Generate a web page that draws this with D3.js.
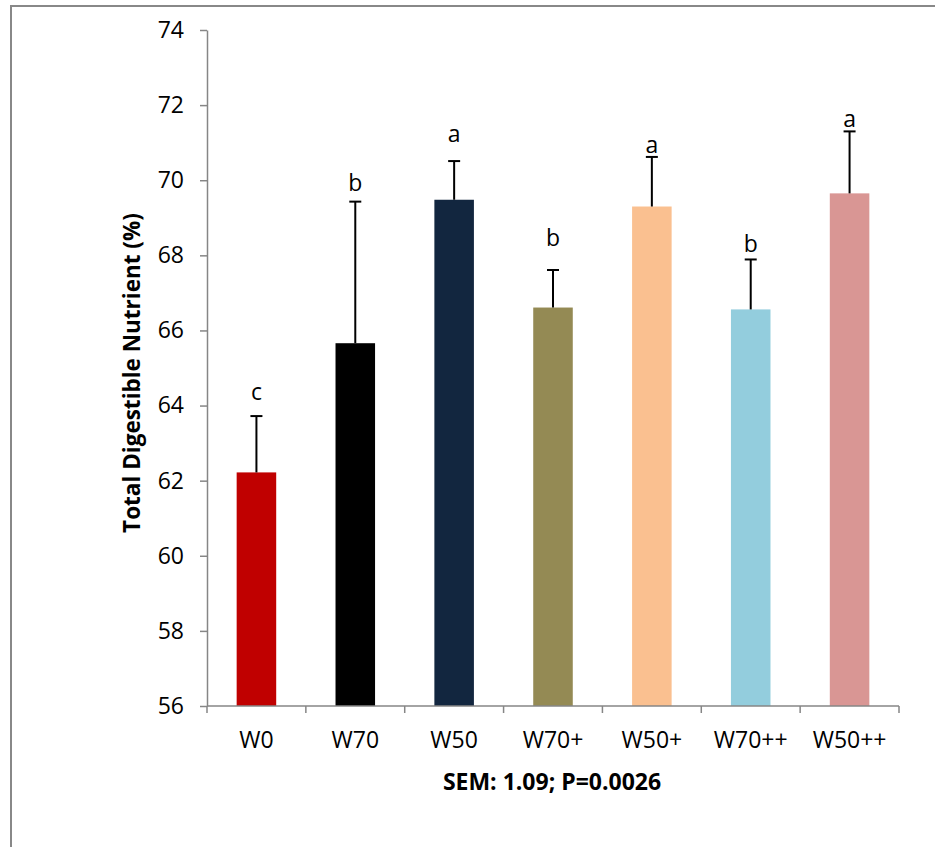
<!DOCTYPE html>
<html>
<head>
<meta charset="utf-8">
<script src="https://cdn.jsdelivr.net/npm/d3@7"></script>
<style>
  body { margin: 0; background: #fff; }
  text { font-family: "Open Sans", "Noto Sans", sans-serif; fill: #000; }
</style>
</head>
<body>
<div id="graph"></div>
<script>
// data
const categories = ["W0", "W70", "W50", "W70+", "W50+", "W70++", "W50++"];
const means = [62.22, 65.66, 69.48, 66.61, 69.30, 66.56, 69.65];
const errTops = [63.72, 69.43, 70.51, 67.61, 70.62, 67.89, 71.30];
const letters = ["c", "b", "a", "b", "a", "b", "a"];
const letterAt = [64.16, 69.72, 71.01, 68.24, 70.73, 68.08, 71.41];
const colors = ["#c00000", "#000000", "#12263f", "#948a54", "#fac090", "#93cddd", "#d99694"];
const yTicks = [56, 58, 60, 62, 64, 66, 68, 70, 72, 74];

const W = 935, H = 847;
const plot = {left: 207, right: 899, top: 30, bottom: 706};

const svg = d3.select("#graph")
  .append("svg")
    .attr("width", W)
    .attr("height", H);

// chart frame
svg.append("rect")
  .attr("x", 11).attr("y", 6)
  .attr("width", W + 10).attr("height", H + 10)
  .attr("fill", "#fff")
  .attr("stroke", "#888")
  .attr("stroke-width", 2);

const x = d3.scaleBand()
  .domain(categories)
  .range([plot.left, plot.right])
  .paddingInner(0.6)
  .paddingOuter(0.3);

const y = d3.scaleLinear()
  .domain([56, 74])
  .range([plot.bottom, plot.top]);

// y axis
const yAxis = svg.append("g")
  .attr("transform", `translate(${plot.left},0)`)
  .call(d3.axisLeft(y).tickValues(yTicks).tickSize(7).tickSizeOuter(0).tickPadding(16));
yAxis.selectAll("path, line").attr("stroke", "#868686").attr("stroke-width", 1.5);
yAxis.selectAll("text").style("font-size", "23px").attr("fill", "#000");

// bars
svg.selectAll("rect.bar")
  .data(categories)
  .join("rect")
    .attr("class", "bar")
    .attr("x", d => x(d))
    .attr("width", x.bandwidth())
    .attr("y", (d, i) => y(means[i]))
    .attr("height", (d, i) => y(56) - y(means[i]))
    .attr("fill", (d, i) => colors[i]);

// error bars (upper only)
const err = svg.append("g").attr("stroke", "#000").attr("stroke-width", 2);
categories.forEach((c, i) => {
  const cx = x(c) + x.bandwidth() / 2;
  err.append("line")
    .attr("x1", cx).attr("x2", cx)
    .attr("y1", y(means[i])).attr("y2", y(errTops[i]));
  err.append("line")
    .attr("x1", cx - 6).attr("x2", cx + 6)
    .attr("y1", y(errTops[i])).attr("y2", y(errTops[i]));
});

// significance letters
svg.selectAll("text.letter")
  .data(categories)
  .join("text")
    .attr("class", "letter")
    .attr("x", d => x(d) + x.bandwidth() / 2)
    .attr("y", (d, i) => y(letterAt[i]))
    .attr("text-anchor", "middle")
    .style("font-size", "23px")
    .text((d, i) => letters[i]);

// x axis: line, boundary ticks, labels
const xAxis = svg.append("g").attr("stroke", "#868686").attr("stroke-width", 1.5);
xAxis.append("line")
  .attr("x1", plot.left).attr("x2", plot.right)
  .attr("y1", y(56)).attr("y2", y(56));
d3.range(categories.length + 1).forEach(i => {
  const tx = plot.left + i * x.step();
  xAxis.append("line")
    .attr("x1", tx).attr("x2", tx)
    .attr("y1", y(56)).attr("y2", y(56) + 7);
});
svg.selectAll("text.xlab")
  .data(categories)
  .join("text")
    .attr("class", "xlab")
    .attr("x", d => x(d) + x.bandwidth() / 2)
    .attr("y", 748)
    .attr("text-anchor", "middle")
    .style("font-size", "23px")
    .text(d => d);

// axis titles
svg.append("text")
  .attr("transform", "translate(140,373) rotate(-90)")
  .attr("text-anchor", "middle")
  .style("font-size", "22.5px")
  .style("font-weight", "bold")
  .text("Total Digestible Nutrient (%)");

svg.append("text")
  .attr("x", 552)
  .attr("y", 790)
  .attr("text-anchor", "middle")
  .style("font-size", "23px")
  .style("font-weight", "bold")
  .text("SEM: 1.09; P=0.0026");
</script>
</body>
</html>
